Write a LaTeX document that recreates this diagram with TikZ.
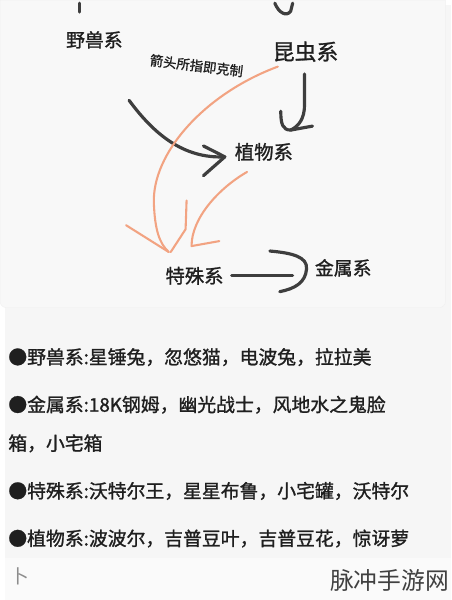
\documentclass[tikz,border=0pt]{standalone}
\usepackage{fontspec}
\setmainfont{Noto Sans CJK SC}
\newfontfamily\heavycjk[FakeBold=1.2]{Noto Sans CJK SC}
\definecolor{pagebg}{HTML}{F6F6F6}
\definecolor{cardbg}{HTML}{F8F8F8}
\definecolor{inkgray}{HTML}{3E3E3E}
\definecolor{penorange}{HTML}{F2A382}
\begin{document}
\begin{tikzpicture}[x=1pt, y=-1pt,
	lbl/.style={inner sep=0pt, text=black!88},
	ink/.style={line width=3.2pt, draw=inkgray, line cap=round, line join=round},
	pen/.style={line width=2.1pt, draw=penorange, line cap=round, line join=round},
	item/.style={anchor=west, inner sep=0pt, text=black!88, font=\heavycjk\fontsize{19}{19}\selectfont}]

	% background and card
	\fill [pagebg] (0, 0) rectangle (450, 600);
	\filldraw [fill=cardbg, draw=black!6] (-5, -5) [rounded corners=6pt] -- (-5, 305) -- (444, 305) [sharp corners] -- (444, -5) -- cycle;
	\fill [white!98!black] (0, 558) rectangle (450, 600);
	\useasboundingbox (0, 0) rectangle (450, 600);

	% cut-off strokes at the top
	\draw [ink] (75, -2) -- (75, 7);
	\draw [ink] (272, -2) .. controls (276, 8) and (284, 12) .. (288, 6) -- (290, -2);

	% labels
	\node (beast) [lbl, font=\heavycjk\fontsize{19}{19}\selectfont] at (90, 35) {野兽系};
	\node (insect) [lbl, font=\heavycjk\fontsize{22}{22}\selectfont] at (303, 47) {昆虫系};
	\node (note) [lbl, font=\heavycjk\fontsize{13.5}{13.5}\selectfont, rotate=-7] at (193, 61) {箭头所指即克制};
	\node (plant) [lbl, font=\heavycjk\fontsize{19.5}{19.5}\selectfont] at (261, 148) {植物系};
	\node (special) [lbl, font=\heavycjk\fontsize{19.5}{19.5}\selectfont] at (191, 273) {特殊系};
	\node (metal) [lbl, font=\heavycjk\fontsize{19}{19}\selectfont] at (341, 265) {金属系};

	% black arrows
	\coordinate (b1) at ([xshift=35pt, yshift=-52pt]beast.south);
	\coordinate (b2) at ([xshift=-10pt, yshift=-5pt]plant.west);
	\draw [ink] (b1) .. controls (150, 130) and (180, 155) .. (b2);
	\draw [ink] (200, 142) -- (b2) -- (200, 172);

	\coordinate (i1) at ([yshift=-12pt]insect.south -| 302, 0);
	\coordinate (i2) at (288, 126);
	\draw [ink] (i1) -- (302, 100) .. controls (302, 115) and (296, 122) .. (i2);
	\draw [ink] (278, 107) .. controls (278, 120) and (280, 126) .. (i2) -- (310, 122);

	\coordinate (s1) at ([xshift=8pt]special.east);
	\coordinate (s2) at (290, 273);
	\draw [ink] (s1) -- (s2);
	\draw [ink] (267, 248) .. controls (290, 250) and (305, 254) .. (304, 266) .. controls (303, 280) and (292, 286) .. (277, 289);

	% orange arrows
	\coordinate (o1) at (275, 62);
	\coordinate (o2) at (165, 249);
	\draw [pen] (o1) .. controls (200, 90) and (148, 150) .. (150, 200) .. controls (151, 225) and (155, 240) .. (o2);
	\draw [pen] (122, 222) -- (o2);

	\coordinate (p1) at ([xshift=-17pt, yshift=-11pt]plant.south);
	\coordinate (p2) at (188, 243);
	\draw [pen] (p1) .. controls (215, 185) and (188, 215) .. (p2);
	\draw [pen] (183, 197) -- (182, 226) -- (167, 249);
	\draw [pen] (216, 238) -- (p2);

	% list
	\foreach \y/\t in {355/{●野兽系:星锤兔，忽悠猫，电波兔，拉拉美},
		403/{●金属系:18K钢姆，幽光战士，风地水之鬼脸},
		442/{箱，小宅箱},
		490/{●特殊系:沃特尔王，星星布鲁，小宅罐，沃特尔},
		538/{●植物系:波波尔，吉普豆叶，吉普豆花，惊讶萝}} {
		\node [item] at (3, \y) {\t};
	}
	\node (bu) [item, font=\fontsize{19}{19}\selectfont, text=black!45] at (5, 576) {卜};
	\node (mark) [inner sep=0pt, anchor=east, text=black!75, font=\fontsize{24}{24}\selectfont] at (448, 580) {脉冲手游网};

\end{tikzpicture}
\end{document}
